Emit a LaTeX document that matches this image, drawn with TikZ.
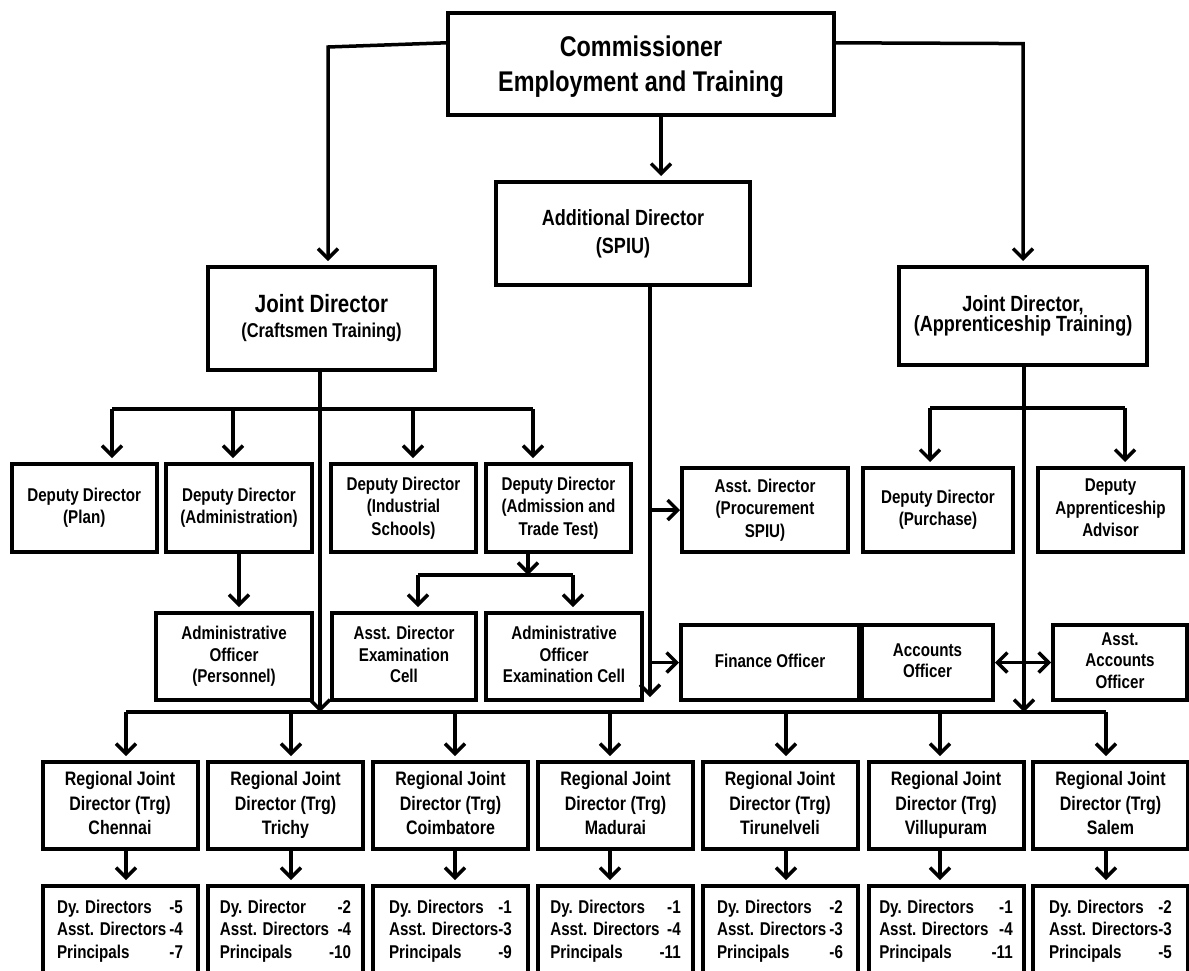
\documentclass[tikz,border=0pt]{standalone}
\usepackage{fontspec}
\setmainfont{Liberation Sans}[FakeStretch=0.82]
\usetikzlibrary{arrows.meta,calc}
\begin{document}
\begin{tikzpicture}[x=1pt,y=-1pt,
  bx/.style={draw,line width=4pt,inner sep=0pt,align=center,font=\bfseries\fontsize{18.5}{22.5}\selectfont,
    execute at end node={\vrule width 0pt depth .22em}},
  conn/.style={line width=3.5pt},
  arr/.style={conn,-{Straight Barb[length=10pt,width=20pt]}},
  arrs/.style={arr,shorten >=4pt},
  darr/.style={conn,{Straight Barb[length=10pt,width=20pt]}-{Straight Barb[length=10pt,width=20pt]}},
  cnt/.style={bx,minimum width=155pt,minimum height=90pt}]
\clip (0,0) rectangle (1189,970);
\fill[white] (0,0) rectangle (1189,970);

% top level
\node[bx,minimum width=386pt,minimum height=102pt,font=\bfseries\fontsize{28.5}{35}\selectfont] (comm) at (641,64) {\rule{0pt}{27pt}Commissioner\\Employment and Training};
\node[bx,minimum width=227pt,minimum height=103pt,font=\bfseries\fontsize{25}{25}\selectfont] (jdc) at (321.5,318.5) {Joint Director\\{\fontsize{20}{25}\selectfont(Craftsmen Training)}};
\node[bx,minimum width=254pt,minimum height=103pt,font=\bfseries\fontsize{22}{28}\selectfont] (ad) at (623,233.5) {Additional Director\\(SPIU)};
\node[bx,minimum width=248pt,minimum height=98pt,font=\bfseries\fontsize{22}{20}\selectfont] (jda) at (1023,316) {Joint Director,\\(Apprenticeship Training)};

% deputy director row
\node[bx,minimum width=145.5pt,minimum height=88pt] (dplan) at (84.25,508) {Deputy Director\\(Plan)};
\node[bx,minimum width=146pt,minimum height=88pt] (dadm) at (239,508) {Deputy Director\\(Administration)};
\node[bx,minimum width=145pt,minimum height=88pt] (dind) at (403.5,508) {Deputy Director\\(Industrial\\Schools)};
\node[bx,minimum width=145pt,minimum height=88pt] (dadmis) at (558.5,508) {Deputy Director\\(Admission and\\Trade Test)};
\node[bx,minimum width=166pt,minimum height=84pt] (proc) at (765,510) {Asst. Director\\(Procurement\\SPIU)};
\node[bx,minimum width=150pt,minimum height=84pt] (dpur) at (938,510) {Deputy Director\\(Purchase)};
\node[bx,minimum width=145pt,minimum height=84pt] (dapp) at (1110.5,510) {Deputy\\Apprenticeship\\Advisor};

% second row
\node[bx,minimum width=156pt,minimum height=87pt,font=\bfseries\fontsize{18.5}{21.5}\selectfont] (aop) at (234,656.5) {Administrative\\Officer\\(Personnel)};
\node[bx,minimum width=144pt,minimum height=87pt,font=\bfseries\fontsize{18.5}{21.5}\selectfont] (ade) at (404,656.5) {Asst. Director\\Examination\\Cell};
\node[bx,minimum width=156pt,minimum height=87pt,font=\bfseries\fontsize{18.5}{21.5}\selectfont] (aoe) at (564,656.5) {Administrative\\Officer\\Examination Cell};
\node[bx,minimum width=178pt,minimum height=75pt] (fin) at (770,662.5) {Finance Officer};
\node[bx,minimum width=131pt,minimum height=75pt,font=\bfseries\fontsize{18.5}{21.5}\selectfont] (acc) at (927.5,662.5) {Accounts\\Officer};
\node[bx,minimum width=134pt,minimum height=75pt,font=\bfseries\fontsize{18.5}{21.5}\selectfont] (aacc) at (1120,662.5) {Asst.\\Accounts\\Officer};

% regional row
\foreach \i/\cx/\ax/\city in {1/120/126/Chennai,2/285.5/291/Trichy,3/450.5/455/Coimbatore,4/615.5/610/Madurai,5/780/786/Tirunelveli,6/946/940/Villupuram,7/1110.5/1106/Salem}{
  \node[bx,minimum width=155pt,minimum height=87pt,font=\bfseries\fontsize{19.5}{24.5}\selectfont] (r\i) at (\cx,805.5) {Regional Joint\\Director (Trg)\\\city};
  \coordinate (rb\i) at (\ax,712);
}

% count boxes
\node[cnt] (d1) at (120,931) {\begin{tabular}{@{}l@{\,}r@{}}Dy. Directors&-5\\Asst. Directors&-4\\Principals&-7\end{tabular}};
\node[cnt] (d2) at (285.5,931) {\begin{tabular}{@{}l@{}r@{}}Dy. Director&-2\\Asst. Directors&-4\\Principals&-10\end{tabular}};
\node[cnt] (d3) at (450.5,931) {\begin{tabular}{@{}l@{}r@{}}Dy. Directors&-1\\Asst. Directors&-3\\Principals&-9\end{tabular}};
\node[cnt] (d4) at (615.5,931) {\begin{tabular}{@{}l@{}r@{}}Dy. Directors&-1\\Asst. Directors&-4\\Principals&-11\end{tabular}};
\node[cnt] (d5) at (780,931) {\begin{tabular}{@{}l@{\,}r@{}}Dy. Directors&-2\\Asst. Directors&-3\\Principals&-6\end{tabular}};
\node[cnt] (d6) at (946,931) {\begin{tabular}{@{}l@{\,}r@{}}Dy. Directors&-1\\Asst. Directors&-4\\Principals&-11\end{tabular}};
\node[cnt] (d7) at (1110.5,931) {\begin{tabular}{@{}l@{}r@{}}Dy. Directors&-2\\Asst. Directors&-3\\Principals&-5\end{tabular}};

% coordinates
\coordinate (cl) at ($(comm.north west)!0.3!(comm.south west)$);
\coordinate (cr) at ($(comm.north east)!0.3!(comm.south east)$);
\coordinate (jl) at (328,47);
\coordinate (jr) at (1023,43.6);
\coordinate (cm) at (661,0);
\coordinate (sp) at (650,697);
\coordinate (jc) at (320,712);
\coordinate (ja) at (1024,712);
\coordinate (b1) at (112,409);
\coordinate (b2) at (233,409);
\coordinate (b3) at (413,409);
\coordinate (b4) at (533,409);
\coordinate (ap) at (239,0);
\coordinate (s0) at (528,575);
\coordinate (s1) at (418,575);
\coordinate (s2) at (573,575);
\coordinate (p1) at (930,408);
\coordinate (p2) at (1125,408);

% connectors from commissioner
\draw[arrs] (cl) -- (jl) -- (jl |- jdc.north);
\draw[arrs] (cr) -- (jr) -- (jr |- jda.north);
\draw[arrs] (cm |- comm.south) -- (cm |- ad.north);

% SPIU line
\draw[arr] (sp |- ad.south) -- (sp);
\draw[arr] (sp |- proc.west) -- (proc.west);
\draw[arr] (sp |- fin.west) -- (fin.west);

% craftsmen branch
\draw[arr] (jc |- jdc.south) -- (jc);
\draw[conn] (b1) -- (b4);
\draw[arrs] (b1) -- (b1 |- dplan.north);
\draw[arrs] (b2) -- (b2 |- dadm.north);
\draw[arrs] (b3) -- (b3 |- dind.north);
\draw[arrs] (b4) -- (b4 |- dadmis.north);
\draw[arrs] (ap |- dadm.south) -- (ap |- aop.north);
\draw[arr] (s0 |- dadmis.south) -- (s0);
\draw[conn] (s1) -- (s2);
\draw[arrs] (s1) -- (s1 |- ade.north);
\draw[arrs] (s2) -- (s2 |- aoe.north);

% apprenticeship branch
\draw[arr] (ja |- jda.south) -- (ja);
\draw[conn] (p1) -- (p2);
\draw[arrs] (p1) -- (p1 |- dpur.north);
\draw[arrs] (p2) -- (p2 |- dapp.north);
\draw[darr] (acc.east) -- (aacc.west);

% regional bus
\draw[conn] (rb1) -- (rb7);
\foreach \i in {1,...,7}{
  \draw[arrs] (rb\i) -- (rb\i |- r\i.north);
  \draw[arrs] (rb\i |- r\i.south) -- (rb\i |- d\i.north);
}
\end{tikzpicture}
\end{document}
